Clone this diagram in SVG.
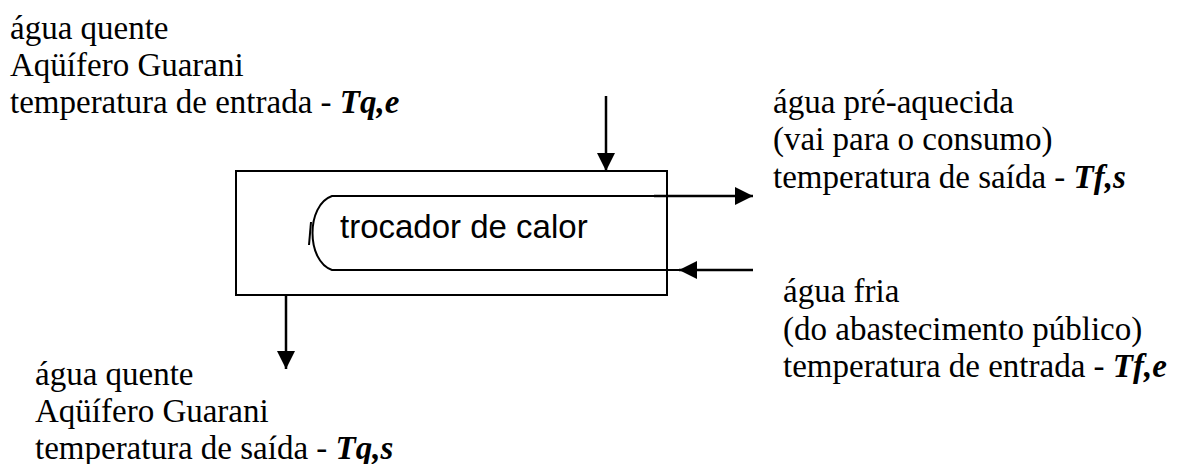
<svg xmlns="http://www.w3.org/2000/svg" width="1189" height="464" viewBox="0 0 1189 464">
<style>
.t{font-family:"Liberation Serif","Times New Roman",serif;font-size:33px;fill:#000}
.b{font-weight:bold;font-style:italic}
.box{fill:none;stroke:#000;stroke-width:2}
.tube{fill:none;stroke:#000;stroke-width:2}
.arr{fill:none;stroke:#000;stroke-width:2.5}
.lbl{font-family:"Liberation Sans",Arial,sans-serif;font-size:33px;fill:#000}
</style>
<defs>
<marker id="ah" viewBox="0 0 18 18" refX="18" refY="9" markerWidth="18" markerHeight="18" orient="auto" markerUnits="userSpaceOnUse">
<path d="M0,0 L18,9 L0,18 Z" fill="#000"/>
</marker>
</defs>
<g id="trocador">
<rect class="box" x="236" y="171" width="431" height="124"/>
<path class="tube" d="M654,196 L332,196 C306,205 306,261 332,270 L679,270"/>
<path class="tube" d="M311,222 L309,245"/>
<text class="lbl" x="340" y="238">trocador de calor</text>
</g>
<g id="connectors">
<line class="arr" x1="606" y1="96" x2="606" y2="171" marker-end="url(#ah)"/>
<line class="arr" x1="286" y1="295" x2="286" y2="369" marker-end="url(#ah)"/>
<line class="arr" x1="654" y1="196" x2="753" y2="196" marker-end="url(#ah)"/>
<line class="arr" x1="753" y1="270" x2="679" y2="270" marker-end="url(#ah)"/>
</g>
<g id="entrada-quente">
<text class="t" x="10" y="39">água quente</text>
<text class="t" x="10" y="76">Aqüífero Guarani</text>
<text class="t" x="10" y="113">temperatura de entrada - <tspan class="b">Tq,e</tspan></text>
</g>
<g id="saida-quente">
<text class="t" x="35" y="385">água quente</text>
<text class="t" x="35" y="422">Aqüífero Guarani</text>
<text class="t" x="35" y="459">temperatura de saída - <tspan class="b">Tq,s</tspan></text>
</g>
<g id="saida-fria">
<text class="t" x="773" y="113">água pré-aquecida</text>
<text class="t" x="773" y="150">(vai para o consumo)</text>
<text class="t" x="773" y="188">temperatura de saída - <tspan class="b">Tf,s</tspan></text>
</g>
<g id="entrada-fria">
<text class="t" x="783" y="302">água fria</text>
<text class="t" x="783" y="340">(do abastecimento público)</text>
<text class="t" x="783" y="377">temperatura de entrada - <tspan class="b">Tf,e</tspan></text>
</g>
</svg>
